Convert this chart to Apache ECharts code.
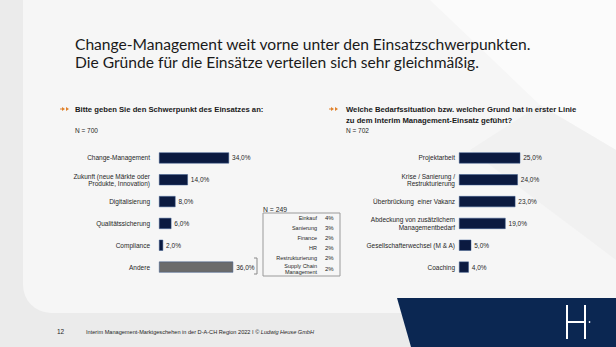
<!DOCTYPE html>
<html><head><meta charset="utf-8">
<script src="https://cdn.jsdelivr.net/npm/echarts@6/dist/echarts.min.js"></script>
<style>html,body{margin:0;padding:0;background:#ebebeb}#c{width:616px;height:347px}</style>
</head><body><div id="c"></div>
<script>
// ---- data ----
const leftCats = ['Change-Management', 'Zukunft (neue Märkte oder\nProdukte, Innovation)', 'Digitalisierung', 'Qualitätssicherung', 'Compliance', 'Andere'];
const leftValues = [34, 14, 8, 6, 2, 36];
const rightCats = ['Projektarbeit', 'Krise / Sanierung /\nRestrukturierung', 'Überbrückung  einer Vakanz', 'Abdeckung von zusätzlichem\nManagementbedarf', 'Gesellschafterwechsel (M & A)', 'Coaching'];
const rightValues = [25, 24, 23, 19, 5, 4];
const insetLabels = ['Einkauf', 'Sanierung', 'Finance', 'HR', 'Restrukturierung', 'Supply Chain\nManagement'];
const insetValues = ['4%', '3%', '2%', '2%', '2%', '2%'];
const titleText = 'Change-Management weit vorne unter den Einsatzschwerpunkten.\nDie Gründe für die Einsätze verteilen sich sehr gleichmäßig.';
const leftQuestion = 'Bitte geben Sie den Schwerpunkt des Einsatzes an:';
const rightQuestion = 'Welche Bedarfssituation bzw. welcher Grund hat in erster Linie\nzu dem Interim Management-Einsatz geführt?';
const leftN = 'N = 700', rightN = 'N = 702', insetN = 'N = 249';
const footerPage = '12';
const footerText = 'Interim Management-Marktgeschehen in der D-A-CH Region 2022 I © ';
const footerItalic = 'Ludwig Heuse GmbH';

const NAVY = '#0b1a40', GREY = '#6b6b6b', TXT = '#262626';
const fmt = v => v.toFixed(1).replace('.', ',') + '%';
const SANS = '"Liberation Sans", Arial, sans-serif';

const chart = echarts.init(document.getElementById('c'), null, {renderer: 'svg'});

const g = [];
// background panel
g.push({type:'rect', z:-10, shape:{x:23, y:0, width:593, height:313, r:[0,0,0,28]}, style:{fill:'#f6f6f6'}});
// faint decorative shapes
g.push({type:'polygon', z:-9, shape:{points:[[430,0],[616,0],[616,150],[540,105]]}, style:{fill:'#fbfbfb'}});
g.push({type:'polygon', z:-9, shape:{points:[[470,150],[540,105],[616,150],[616,260]]}, style:{fill:'#f1f1f1'}});
// dark block
g.push({type:'polygon', z:-5, shape:{points:[[397,298],[616,298],[616,347],[411,347]]}, style:{fill:'#0b2752'}});
// logo
const L = {stroke:'#ffffff', lineWidth:2};
g.push({type:'line', shape:{x1:567,y1:305,x2:567,y2:339}, style:L});
g.push({type:'line', shape:{x1:585,y1:305,x2:585,y2:339}, style:L});
g.push({type:'line', shape:{x1:567,y1:322,x2:585,y2:322}, style:L});
g.push({type:'circle', shape:{cx:589.5,cy:322,r:0.8}, style:{fill:'#ffffff'}});
// title
g.push({type:'text', style:{text:titleText, x:75, y:35, textVerticalAlign:'top', lineHeight:18, font:'15.6px Lato, "Noto Sans", sans-serif', fill:'#1a1a1a'}});
// arrows
function arrow(x,y){
  [0,4].forEach(dx=>g.push({type:'polygon', shape:{points:[[x+dx,y-2],[x+dx+3,y],[x+dx,y+2]]}, style:{fill:'#e0812a'}}));
  g.push({type:'line', shape:{x1:x-2,y1:y,x2:x,y2:y}, style:{stroke:'#e0812a', lineWidth:1}});
}
arrow(62,109); arrow(331,109);
g.push({type:'text', style:{text:leftQuestion, x:75, y:109, textVerticalAlign:'middle', font:'bold 7.7px '+SANS, fill:'#1a1a1a'}});
g.push({type:'text', style:{text:rightQuestion, x:346, y:104, textVerticalAlign:'top', lineHeight:11, font:'bold 7.7px '+SANS, fill:'#1a1a1a'}});
g.push({type:'text', style:{text:leftN, x:75, y:130, textVerticalAlign:'middle', font:'6.5px '+SANS, fill:TXT}});
g.push({type:'text', style:{text:rightN, x:346, y:130, textVerticalAlign:'middle', font:'6.5px '+SANS, fill:TXT}});
// bracket
g.push({type:'polyline', shape:{points:[[254,258],[257,258],[257,274],[254,274]]}, style:{stroke:'#8a8a8a', lineWidth:1, fill:'none'}});
// inset box
g.push({type:'text', style:{text:insetN, x:263, y:209, textVerticalAlign:'middle', font:'6.8px '+SANS, fill:TXT}});
g.push({type:'rect', shape:{x:263, y:213, width:77, height:63}, style:{stroke:'#9a9a9a', lineWidth:1, fill:'none'}});
const insetY = [218, 228, 238, 248, 257.5, 269];
insetLabels.forEach((t,i)=>{
  g.push({type:'text', style:{text:t, x:317, y:insetY[i], textAlign:'right', textVerticalAlign:'middle', lineHeight:6.5, font:'5.5px '+SANS, fill:TXT}});
  g.push({type:'text', style:{text:insetValues[i], x:325, y:insetY[i], textVerticalAlign:'middle', font:'6px '+SANS, fill:TXT}});
});
// footer
g.push({type:'text', style:{text:footerPage, x:57, y:331, textVerticalAlign:'middle', font:'6.5px '+SANS, fill:TXT}});
g.push({type:'text', style:{rich:{a:{font:'5.6px '+SANS, fill:TXT}, b:{font:'italic 5.6px '+SANS, fill:TXT}}, text:'{a|'+footerText+'}{b|'+footerItalic+'}', x:86, y:332, textVerticalAlign:'middle'}});

const catLabel = {fontSize:6.5, color:TXT, fontFamily:SANS, lineHeight:7.5};
const valLabel = {show:true, position:'right', distance:3, fontSize:6.5, color:TXT, fontFamily:SANS, formatter:p=>fmt(p.value)};

chart.setOption({
  backgroundColor:'#ebebeb',
  animation:false,
  grid:[{left:159, top:147, width:82.4, height:131}, {left:459, top:147, width:73.5, height:131}],
  xAxis:[{gridIndex:0, type:'value', min:0, max:40, show:false}, {gridIndex:1, type:'value', min:0, max:30, show:false}],
  yAxis:[
    {gridIndex:0, type:'category', data:leftCats, inverse:true, axisLine:{show:false}, axisTick:{show:false}, axisLabel:Object.assign({margin:9}, catLabel)},
    {gridIndex:1, type:'category', data:rightCats, inverse:true, axisLine:{show:false}, axisTick:{show:false}, axisLabel:Object.assign({margin:4}, catLabel)}
  ],
  series:[
    {type:'bar', xAxisIndex:0, yAxisIndex:0, data:leftValues, barWidth:11,
     itemStyle:{color:p=>leftCats[p.dataIndex]==='Andere'?GREY:NAVY, borderColor:'#3b5a8c', borderWidth:0.5}, label:valLabel},
    {type:'bar', xAxisIndex:1, yAxisIndex:1, data:rightValues, barWidth:11,
     itemStyle:{color:NAVY, borderColor:'#3b5a8c', borderWidth:0.5}, label:valLabel}
  ],
  graphic:g
});
</script></body></html>
